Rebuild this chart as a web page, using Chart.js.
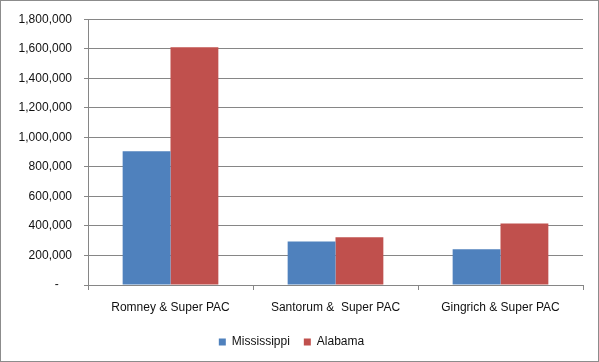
<!DOCTYPE html>
<html>
<head>
<meta charset="utf-8">
<script src="https://cdn.jsdelivr.net/npm/chart.js@4.4.1/dist/chart.umd.min.js"></script>
<style>
  html, body { margin: 0; padding: 0; background: #fff; }
  #wrap { width: 599px; height: 362px; }
</style>
</head>
<body>
<div id="wrap"><canvas id="chart" width="599" height="362"></canvas></div>
<script>
// chart data
const candidates = ['Romney & Super PAC', 'Santorum &  Super PAC', 'Gingrich & Super PAC'];
const mississippiSpend = [905000, 295000, 242000];
const alabamaSpend = [1610000, 323000, 417000];
const yTicks = [0, 200000, 400000, 600000, 800000, 1000000, 1200000, 1400000, 1600000, 1800000];

const axisGray = '#868686';
const textColor = '#111';
const fontFamily = '"Liberation Sans", Arial, sans-serif';

// thin grey frame round the whole picture
const framePlugin = {
    id: 'frame',
    afterDraw(chart) {
        const c = chart.ctx;
        c.save();
        c.strokeStyle = '#8c8c8c';
        c.lineWidth = 1;
        c.strokeRect(0.5, 0.5, chart.width - 1, chart.height - 1);
        c.restore();
    }
};

const ctx = document.getElementById('chart').getContext('2d');
const spendChart = new Chart(ctx, {
    type: 'bar',
    data: {
        labels: candidates,
        datasets: [
            {
                label: 'Mississippi',
                data: mississippiSpend,
                backgroundColor: '#4F81BD',
                borderWidth: 0
            },
            {
                label: 'Alabama',
                data: alabamaSpend,
                backgroundColor: '#C0504D',
                borderWidth: 0
            }
        ]
    },
    options: {
        responsive: false,
        animation: false,
        devicePixelRatio: 1,
        layout: {
            padding: { left: 0, right: 16, top: 15, bottom: 4 }
        },
        datasets: {
            bar: {
                barPercentage: 1,
                categoryPercentage: 0.58
            }
        },
        plugins: {
            tooltip: { enabled: false },
            legend: {
                position: 'bottom',
                labels: {
                    color: textColor,
                    font: { family: fontFamily, size: 12 },
                    boxWidth: 7,
                    boxHeight: 7,
                    padding: 14
                }
            }
        },
        scales: {
            x: {
                grid: {
                    offset: true,
                    drawOnChartArea: false,
                    drawTicks: true,
                    tickLength: 5,
                    color: axisGray
                },
                border: { color: axisGray },
                ticks: {
                    color: textColor,
                    font: { family: fontFamily, size: 12 },
                    padding: 10,
                    maxRotation: 0
                },
                afterFit: (scale) => { scale.height = 37; }
            },
            y: {
                min: 0,
                max: 1800000,
                afterBuildTicks: (scale) => {
                    scale.ticks = yTicks.map(v => ({ value: v }));
                },
                grid: {
                    color: axisGray,
                    tickLength: 4
                },
                border: { color: axisGray },
                ticks: {
                    color: textColor,
                    font: { family: fontFamily, size: 12 },
                    padding: 12,
                    callback: (value) => value === 0 ? '-    ' : value.toLocaleString('en-US')
                },
                afterFit: (scale) => { scale.width = 88; }
            }
        }
    },
    plugins: [framePlugin]
});
</script>
</body>
</html>
